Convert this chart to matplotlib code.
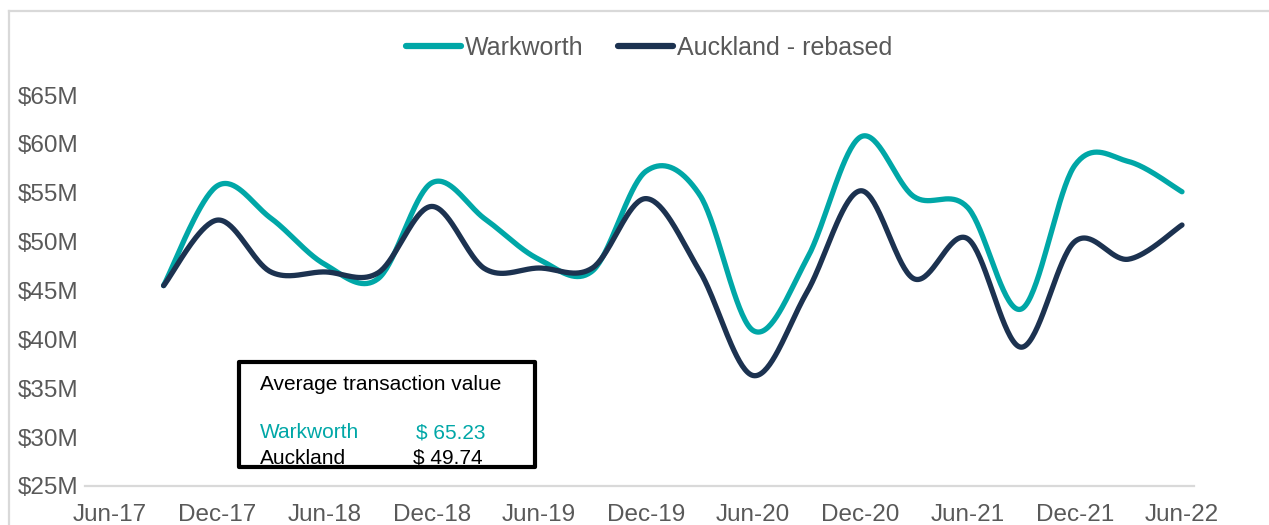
import numpy as np
import matplotlib
matplotlib.use('Agg')
import matplotlib.pyplot as plt
from matplotlib.patches import Rectangle
from matplotlib.lines import Line2D

plt.rcParams['font.family'] = ['Liberation Sans', 'DejaVu Sans']

# ---- data (quarterly, Sep-17 .. Jun-22), $M ----
quarters = ['Sep-17', 'Dec-17', 'Mar-18', 'Jun-18', 'Sep-18', 'Dec-18', 'Mar-19', 'Jun-19',
            'Sep-19', 'Dec-19', 'Mar-20', 'Jun-20', 'Sep-20', 'Dec-20', 'Mar-21', 'Jun-21',
            'Sep-21', 'Dec-21', 'Mar-22', 'Jun-22']
warkworth = [45.5, 55.7, 52.4, 47.7, 46.2, 56.0, 52.3, 48.2, 47.0, 57.2,
             54.8, 40.9, 48.2, 60.7, 54.6, 53.5, 43.1, 57.8, 58.2, 55.1]
auckland = [45.5, 52.2, 46.9, 46.9, 46.8, 53.6, 47.2, 47.3, 47.3, 54.4,
            47.0, 36.3, 44.8, 55.2, 46.2, 50.3, 39.2, 50.0, 48.2, 51.7]
tick_labels = ['Jun-17', 'Dec-17', 'Jun-18', 'Dec-18', 'Jun-19', 'Dec-19',
               'Jun-20', 'Dec-20', 'Jun-21', 'Dec-21', 'Jun-22']
y_ticks = [25, 30, 35, 40, 45, 50, 55, 60, 65]
series_names = ['Warkworth', 'Auckland - rebased']
avg_title = 'Average transaction value'
avg_labels = ['Warkworth', 'Auckland']
avg_values = ['$ 65.23', '$ 49.74']

TEAL = '#00A7A7'
NAVY = '#1C3250'
GRAY = '#595959'
W, H = 1269, 525


def smooth(x, y, n=40):
    """Excel-style smoothed line (Catmull-Rom Bezier through the points)."""
    P = np.column_stack([x, y]).astype(float)
    m = len(P)
    out = []
    for i in range(m - 1):
        p0 = P[i - 1] if i > 0 else P[i]
        p1, p2 = P[i], P[i + 1]
        p3 = P[i + 2] if i + 2 < m else P[i + 1]
        c1 = p1 + (p2 - p0) / 6.0
        c2 = p2 - (p3 - p1) / 6.0
        t = np.linspace(0, 1, n)[:, None]
        seg = ((1 - t) ** 3) * p1 + 3 * t * (1 - t) ** 2 * c1 + 3 * t ** 2 * (1 - t) * c2 + t ** 3 * p2
        out.append(seg if i == 0 else seg[1:])
    out = np.vstack(out)
    return out[:, 0], out[:, 1]


fig = plt.figure(figsize=(W / 100, H / 100), dpi=100)
fig.patch.set_facecolor('white')

# axes placement (pixels)
left_px, right_px, top_px, bot_px = 85, 1194, 95, 486
ax = fig.add_axes([left_px / W, 1 - bot_px / H, (right_px - left_px) / W, (bot_px - top_px) / H])

x = np.arange(1, len(quarters) + 1)
xs, ys = smooth(x, warkworth)
ax.plot(xs, ys, color=TEAL, lw=3.8, solid_capstyle='round', label=series_names[0])
xs, ys = smooth(x, auckland)
ax.plot(xs, ys, color=NAVY, lw=3.8, solid_capstyle='round', label=series_names[1])

# x-scale: quarter index 0 (Jun-17) at px 110, 53.6 px per quarter
x0_px, step = 110.0, 53.6
ax.set_xlim((left_px - x0_px) / step, (right_px - x0_px) / step)
ax.set_ylim(25, 65)

ax.set_xticks(np.arange(0, 21, 2))
ax.set_xticklabels(tick_labels)
ax.set_yticks(y_ticks)
ax.set_yticklabels([f'${v}M' for v in y_ticks])
ax.tick_params(axis='both', length=0, labelsize=17.5, labelcolor=GRAY)
ax.tick_params(axis='x', pad=13)
ax.tick_params(axis='y', pad=5)

for s in ['top', 'right', 'left']:
    ax.spines[s].set_visible(False)
ax.spines['bottom'].set_color('#D9D9D9')
ax.spines['bottom'].set_linewidth(1.6)
ax.set_facecolor('none')

# legend
handles = [Line2D([], [], color=TEAL, lw=4.5, solid_capstyle='round'),
           Line2D([], [], color=NAVY, lw=4.5, solid_capstyle='round')]
leg = fig.legend(handles, series_names, loc='center', bbox_to_anchor=(649 / W, 1 - 48 / H),
                 ncol=2, frameon=False, fontsize=18, handlelength=2.2, handletextpad=0.15,
                 columnspacing=1.4, labelcolor=GRAY)

# outer chart frame (light gray, top & left)
fig.add_artist(Line2D([9 / W, 1.0], [1 - 11 / H, 1 - 11 / H], transform=fig.transFigure,
                      color='#D9D9D9', lw=1.6))
fig.add_artist(Line2D([9 / W, 9 / W], [0, 1 - 11 / H], transform=fig.transFigure,
                      color='#D9D9D9', lw=1.6))

# annotation box
bx0, by0, bx1, by1 = 239, 362, 535, 467
fs_box = 15
fig.add_artist(Rectangle((bx0 / W, 1 - by1 / H), (bx1 - bx0) / W, (by1 - by0) / H,
                         transform=fig.transFigure, facecolor='white', edgecolor='none', zorder=5))
fig.text(260 / W, 1 - 385 / H, avg_title, fontsize=fs_box, color='black', va='center', zorder=6)
fig.text(260 / W, 1 - 433 / H, avg_labels[0], fontsize=fs_box, color=TEAL, va='center', zorder=6)
fig.text(416 / W, 1 - 433 / H, avg_values[0], fontsize=fs_box, color=TEAL, va='center', zorder=6)
fig.text(260 / W, 1 - 458 / H, avg_labels[1], fontsize=fs_box, color='black', va='center', zorder=6)
fig.text(413 / W, 1 - 458 / H, avg_values[1], fontsize=fs_box, color='black', va='center', zorder=6)
fig.add_artist(Rectangle((bx0 / W, 1 - by1 / H), (bx1 - bx0) / W, (by1 - by0) / H,
                         transform=fig.transFigure, facecolor='none', edgecolor='black',
                         lw=3.0, joinstyle='round', zorder=7))

fig.savefig('out.png', dpi=100, facecolor='white')
